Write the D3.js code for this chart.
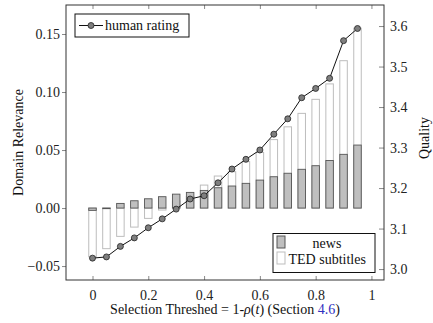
<!DOCTYPE html>
<html><head><meta charset="utf-8">
<script src="https://cdn.jsdelivr.net/npm/d3@7"></script>
<style>body{margin:0;background:#fff}svg text{font-family:"Liberation Serif","Times New Roman",serif}</style>
</head><body><svg id="c" width="433" height="323"></svg>
<script>
const thresholds = [0,0.05,0.1,0.15,0.2,0.25,0.3,0.35,0.4,0.45,0.5,0.55,0.6,0.65,0.7,0.75,0.8,0.85,0.9,0.95];
const news = [-0.002,-0.0005,0.004,0.0063,0.008,0.0098,0.012,0.0135,0.0152,0.0175,0.019,0.0213,0.0241,0.027,0.030,0.0334,0.0365,0.041,0.0463,0.0543];
const ted = [-0.042,-0.035,-0.0244,-0.0164,-0.0089,-0.0017,0.006,0.010,0.0198,0.0276,0.0313,0.040,0.048,0.059,0.070,0.0816,0.0937,0.107,0.127,0.155];
const quality = [3.027,3.030,3.056,3.077,3.102,3.124,3.148,3.173,3.181,3.213,3.247,3.271,3.294,3.333,3.371,3.423,3.446,3.471,3.564,3.594];
const xTicks = [0,0.2,0.4,0.6,0.8,1];
const yLeftTicks = [-0.05,0,0.05,0.10,0.15];
const yRightTicks = [3.0,3.1,3.2,3.3,3.4,3.5,3.6];

const svg = d3.select("#c");
const L=66,R=384,T=5,B=280;
const x = d3.scaleLinear().domain([-0.095,1.045]).range([L,R]);
const yL = d3.scaleLinear().domain([-0.062,0.175]).range([B,T]);
const yR = d3.scaleLinear().domain([2.973,3.652]).range([B,T]);
const fs = 14;
const bw = 7.5;

// bars TED
svg.append("g").selectAll("rect").data(ted).join("rect")
  .attr("x",(d,i)=>x(thresholds[i])-bw/2).attr("width",bw)
  .attr("y",d=>Math.min(yL(d),yL(0))).attr("height",d=>Math.abs(yL(d)-yL(0)))
  .attr("fill","#fff").attr("stroke","#bdbdbd").attr("stroke-width",1);
// bars news
svg.append("g").selectAll("rect").data(news).join("rect")
  .attr("x",(d,i)=>x(thresholds[i])-bw/2).attr("width",bw)
  .attr("y",d=>Math.min(yL(d),yL(0))).attr("height",d=>Math.max(0.6,Math.abs(yL(d)-yL(0))))
  .attr("fill","#bfbfbf").attr("stroke","#555").attr("stroke-width",0.9);

// line
const line = d3.line().x((d,i)=>x(thresholds[i])).y(d=>yR(d));
svg.append("path").datum(quality).attr("d",line).attr("fill","none").attr("stroke","#111").attr("stroke-width",1);
svg.append("g").selectAll("circle").data(quality).join("circle")
  .attr("cx",(d,i)=>x(thresholds[i])).attr("cy",d=>yR(d)).attr("r",3)
  .attr("fill","#7f7f7f").attr("stroke","#222").attr("stroke-width",0.8);

// axes
const axB = d3.axisBottom(x).tickValues(xTicks).tickSize(-4).tickFormat(d3.format("~g"));
const gB = svg.append("g").attr("transform",`translate(0,${B})`).call(axB);
const gT = svg.append("g").attr("transform",`translate(0,${T})`).call(d3.axisTop(x).tickValues(xTicks).tickSize(-4).tickFormat(""));
const fmtL = v => (v<0?"\u2212":"") + Math.abs(v).toFixed(2);
const gL = svg.append("g").attr("transform",`translate(${L},0)`).call(d3.axisLeft(yL).tickValues(yLeftTicks).tickSize(4).tickFormat(fmtL));
const gR = svg.append("g").attr("transform",`translate(${R},0)`).call(d3.axisRight(yR).tickValues(yRightTicks).tickSize(-5).tickFormat(d3.format(".1f")));
[gB,gT,gL,gR].forEach(g=>{
  g.select(".domain").remove();
  g.selectAll(".tick line").attr("stroke","#888");
  g.selectAll(".tick text").attr("font-size",fs).attr("fill","#222").attr("font-family","Liberation Serif, serif");
});
gB.selectAll(".tick text").attr("y",10);
gL.selectAll(".tick text").attr("x",-6);
gR.selectAll(".tick text").attr("x",6);

svg.append("rect").attr("x",L).attr("y",T).attr("width",R-L).attr("height",B-T)
  .attr("fill","none").attr("stroke","#333").attr("stroke-width",1);

// labels
svg.append("text").attr("transform",`translate(23,${(T+B)/2}) rotate(-90)`).attr("text-anchor","middle")
  .attr("font-size",fs).attr("fill","#111").text("Domain Relevance");
svg.append("text").attr("transform",`translate(429,138) rotate(-90)`).attr("text-anchor","middle")
  .attr("font-size",fs).attr("fill","#111").text("Quality");
const xl = svg.append("text").attr("x",225).attr("y",314).attr("text-anchor","middle").attr("font-size",fs).attr("fill","#111");
xl.append("tspan").text("Selection Threshed = 1-");
xl.append("tspan").attr("font-style","italic").text("\u03c1");
xl.append("tspan").text("(");
xl.append("tspan").attr("font-style","italic").text("t");
xl.append("tspan").text(") (Section ");
xl.append("tspan").attr("fill","#3030c0").text("4.6");
xl.append("tspan").text(")");

// legend 1
const lg1 = svg.append("g");
lg1.append("rect").attr("x",75).attr("y",14).attr("width",114).attr("height",23).attr("fill","#fff").attr("stroke","#111");
lg1.append("line").attr("x1",79).attr("x2",103).attr("y1",25.5).attr("y2",25.5).attr("stroke","#111");
lg1.append("circle").attr("cx",91).attr("cy",25.5).attr("r",3).attr("fill","#7f7f7f").attr("stroke","#222").attr("stroke-width",0.8);
lg1.append("text").attr("x",105).attr("y",30).attr("font-size",fs).attr("fill","#111").text("human rating");

// legend 2
const lg2 = svg.append("g");
lg2.append("rect").attr("x",273).attr("y",233.5).attr("width",102).attr("height",39).attr("fill","#fff").attr("stroke","#111");
lg2.append("rect").attr("x",277).attr("y",236).attr("width",8).attr("height",12).attr("fill","#bfbfbf").attr("stroke","#555");
lg2.append("rect").attr("x",277).attr("y",252).attr("width",8).attr("height",12).attr("fill","#fff").attr("stroke","#bdbdbd");
lg2.append("text").attr("x",327).attr("y",248).attr("text-anchor","middle").attr("font-size",fs).attr("fill","#111").text("news");
lg2.append("text").attr("x",288.5).attr("y",264).attr("font-size",fs).attr("fill","#111").text("TED subtitles");
</script></body></html>
